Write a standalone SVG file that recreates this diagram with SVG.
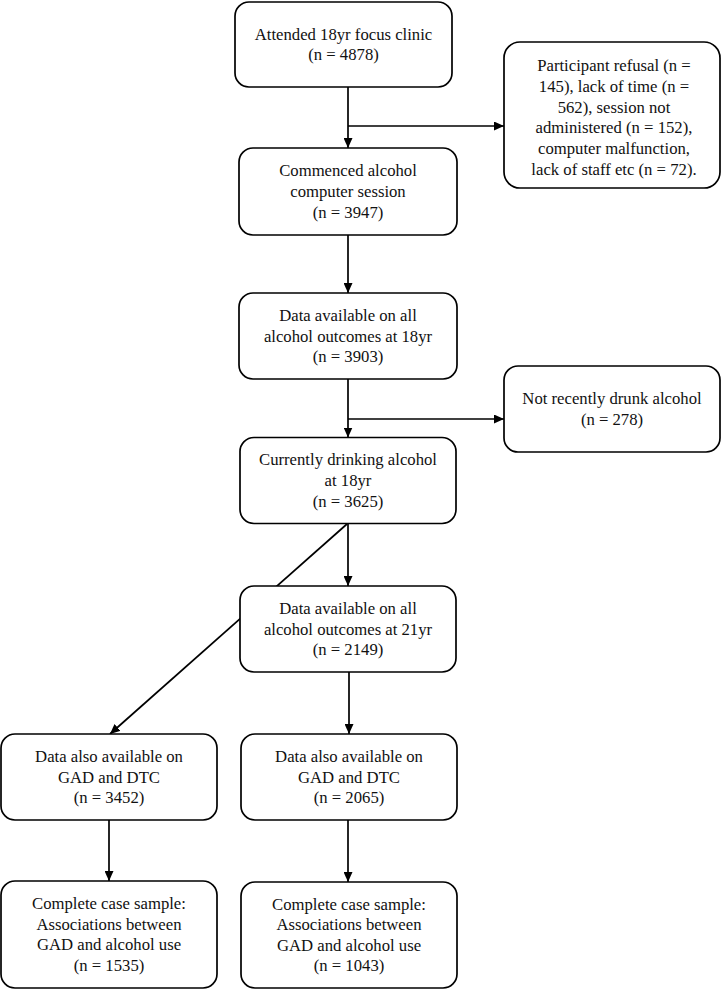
<svg xmlns="http://www.w3.org/2000/svg" width="722" height="990" viewBox="0 0 722 990">
<style>
.box{fill:#fff;stroke:#000;stroke-width:1.7}
.t{font-family:"Liberation Serif","Times New Roman",serif;font-size:16.7px;fill:#111;text-anchor:middle}
.c{fill:none;stroke:#000;stroke-width:1.7}
</style>
<defs>
<marker id="ah" markerUnits="userSpaceOnUse" markerWidth="10" markerHeight="9" refX="10" refY="4.5" orient="auto">
<path d="M0,0 L10,4.5 L0,9 z" fill="#000"/>
</marker>
</defs>
<rect width="722" height="990" fill="#fff"/>
<g id="connectors">
<line class="c" x1="348" y1="87" x2="348" y2="148" marker-end="url(#ah)"/>
<line class="c" x1="348" y1="126" x2="504" y2="126" marker-end="url(#ah)"/>
<line class="c" x1="348" y1="235" x2="348" y2="293" marker-end="url(#ah)"/>
<line class="c" x1="348" y1="379" x2="348" y2="437.5" marker-end="url(#ah)"/>
<line class="c" x1="348" y1="419" x2="504" y2="419" marker-end="url(#ah)"/>
<line class="c" x1="348" y1="523.5" x2="348" y2="586" marker-end="url(#ah)"/>
<line class="c" x1="347" y1="524" x2="110" y2="734" marker-end="url(#ah)"/>
<line class="c" x1="349" y1="672" x2="349" y2="734" marker-end="url(#ah)"/>
<line class="c" x1="109" y1="820" x2="109" y2="881" marker-end="url(#ah)"/>
<line class="c" x1="348" y1="820" x2="348" y2="882" marker-end="url(#ah)"/>
</g>
<g id="n1">
<rect class="box" x="235" y="2" width="217" height="85" rx="14"/>
<text class="t" x="343.5" y="39.7">Attended 18yr focus clinic</text>
<text class="t" x="343.5" y="60.3">(n = 4878)</text>
</g>
<g id="nA">
<rect class="box" x="504" y="42" width="216" height="146" rx="16"/>
<text class="t" x="614" y="71">Participant refusal (n =</text>
<text class="t" x="614" y="91.8">145), lack of time (n =</text>
<text class="t" x="614" y="112.6">562), session not</text>
<text class="t" x="614" y="133.4">administered (n = 152),</text>
<text class="t" x="614" y="154.2">computer malfunction,</text>
<text class="t" x="614" y="175">lack of staff etc (n = 72).</text>
</g>
<g id="n2">
<rect class="box" x="239" y="148" width="218" height="87" rx="14"/>
<text class="t" x="348" y="176.4">Commenced alcohol</text>
<text class="t" x="348" y="197">computer session</text>
<text class="t" x="348" y="217.6">(n = 3947)</text>
</g>
<g id="n3">
<rect class="box" x="239" y="293" width="218" height="86" rx="14"/>
<text class="t" x="348" y="320.9">Data available on all</text>
<text class="t" x="348" y="341.5">alcohol outcomes at 18yr</text>
<text class="t" x="348" y="362.1">(n = 3903)</text>
</g>
<g id="nB">
<rect class="box" x="504" y="366" width="216" height="86" rx="14"/>
<text class="t" x="612" y="404.3">Not recently drunk alcohol</text>
<text class="t" x="612" y="424.8">(n = 278)</text>
</g>
<g id="n4">
<rect class="box" x="240" y="437.5" width="216" height="86" rx="14"/>
<text class="t" x="348" y="465.4">Currently drinking alcohol</text>
<text class="t" x="348" y="486">at 18yr</text>
<text class="t" x="348" y="506.6">(n = 3625)</text>
</g>
<g id="n5">
<rect class="box" x="240" y="586" width="216" height="86" rx="14"/>
<text class="t" x="348" y="613.9">Data available on all</text>
<text class="t" x="348" y="634.5">alcohol outcomes at 21yr</text>
<text class="t" x="348" y="655.1">(n = 2149)</text>
</g>
<g id="n6">
<rect class="box" x="1" y="734" width="216" height="86" rx="14"/>
<text class="t" x="109" y="761.9">Data also available on</text>
<text class="t" x="109" y="782.5">GAD and DTC</text>
<text class="t" x="109" y="803.1">(n = 3452)</text>
</g>
<g id="n7">
<rect class="box" x="241" y="734" width="216" height="86" rx="14"/>
<text class="t" x="349" y="761.9">Data also available on</text>
<text class="t" x="349" y="782.5">GAD and DTC</text>
<text class="t" x="349" y="803.1">(n = 2065)</text>
</g>
<g id="n8">
<rect class="box" x="1" y="881" width="216" height="107" rx="14"/>
<text class="t" x="109" y="909.1">Complete case sample:</text>
<text class="t" x="109" y="929.7">Associations between</text>
<text class="t" x="109" y="950.3">GAD and alcohol use</text>
<text class="t" x="109" y="970.9">(n = 1535)</text>
</g>
<g id="n9">
<rect class="box" x="241" y="882" width="216" height="106" rx="14"/>
<text class="t" x="349" y="909.6">Complete case sample:</text>
<text class="t" x="349" y="930.2">Associations between</text>
<text class="t" x="349" y="950.8">GAD and alcohol use</text>
<text class="t" x="349" y="971.4">(n = 1043)</text>
</g>
</svg>
